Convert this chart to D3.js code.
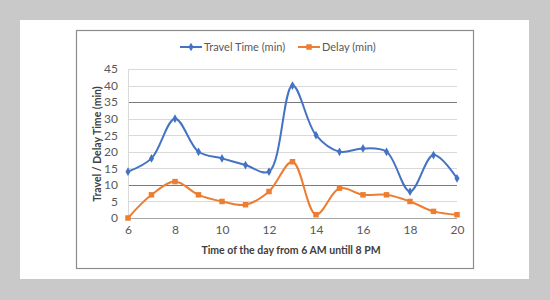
<!DOCTYPE html>
<html>
<head>
<meta charset="utf-8">
<script src="https://cdn.jsdelivr.net/npm/d3@7"></script>
<style>
  body { margin: 0; background: #c9c9c9; }
  svg { display: block; font-family: Lato, 'Open Sans', sans-serif; }
</style>
</head>
<body>
<svg width="550" height="300"></svg>
<script>
// chart data
var hours = [6, 7, 8, 9, 10, 11, 12, 13, 14, 15, 16, 17, 18, 19, 20]
var travelTime = [14, 18, 30, 20, 18, 16, 14, 40, 25, 20, 21, 20, 8, 19, 12]
var delay = [0, 7, 11, 7, 5, 4, 8, 17, 1, 9, 7, 7, 5, 2, 1]
var xTicks = [6, 8, 10, 12, 14, 16, 18, 20]
var yTicks = [0, 5, 10, 15, 20, 25, 30, 35, 40, 45]
var seriesNames = ['Travel Time (min)', 'Delay (min)']

var blue = '#4472c4', orange = '#ed7d31'

var svg = d3.select('svg')

// white card + chart frame
svg.append('rect').attr('x', 20).attr('y', 20).attr('width', 509).attr('height', 259).attr('fill', '#fff')
svg.append('rect').attr('x', 76.5).attr('y', 30.5).attr('width', 397).attr('height', 238)
    .attr('fill', '#fff').attr('stroke', '#8c8c8c').attr('stroke-width', 1.2)

var x = d3.scaleLinear().domain([6, 20]).range([128, 457])
var y = d3.scaleLinear().domain([0, 45]).range([218, 69])

// grid lines
svg.append('g')
  .selectAll('line')
  .data(yTicks)
  .enter().append('line')
    .attr('x1', x(6)).attr('x2', x(20))
    .attr('y1', function(d) { return Math.round(y(d)) + 0.5 })
    .attr('y2', function(d) { return Math.round(y(d)) + 0.5 })
    .attr('stroke', function(d) { return (d == 35 || d == 10) ? '#7a7a7a' : (d == 0 ? '#a6a6a6' : '#d9d9d9') })
    .attr('stroke-width', 1)

// left axis line
svg.append('line').attr('x1', x(6) + 0.5).attr('x2', x(6) + 0.5).attr('y1', y(45)).attr('y2', y(0))
    .attr('stroke', '#d9d9d9')

// y axis
var yAxis = svg.append('g')
    .attr('transform', 'translate(' + x(6) + ',0)')
    .call(d3.axisLeft(y).tickValues(yTicks).tickSize(0).tickPadding(10))
yAxis.select('.domain').remove()
yAxis.selectAll('text').attr('font-size', 12).attr('fill', '#595959').attr('font-family', 'Lato, sans-serif')

// x axis
var xAxis = svg.append('g')
    .attr('transform', 'translate(0,' + y(0) + ')')
    .call(d3.axisBottom(x).tickValues(xTicks).tickSize(0).tickPadding(7))
xAxis.select('.domain').remove()
xAxis.selectAll('text').attr('font-size', 12).attr('fill', '#595959').attr('font-family', 'Lato, sans-serif')

// axis titles
svg.append('text')
    .attr('x', 291).attr('y', 254)
    .attr('text-anchor', 'middle')
    .attr('font-size', 10.5).attr('font-weight', 'bold').attr('fill', '#404040')
    .text('Time of the day from 6 AM untill 8 PM')

svg.append('text')
    .attr('transform', 'translate(101,144) rotate(-90)')
    .attr('text-anchor', 'middle')
    .attr('font-size', 10.5).attr('font-weight', 'bold').attr('fill', '#404040')
    .text('Travel / Delay Time (min)')

// lines
var line = d3.line()
    .x(function(d) { return x(d[0]) })
    .y(function(d) { return y(d[1]) })
    .curve(d3.curveCatmullRom.alpha(0.5))

var series = [
  { name: seriesNames[0], values: travelTime, color: blue, shape: d3.symbolDiamond, size: 22 },
  { name: seriesNames[1], values: delay, color: orange, shape: d3.symbolSquare, size: 30 }
]

series.forEach(function(s) {
  var pts = hours.map(function(h, i) { return [h, s.values[i]] })
  svg.append('path')
      .datum(pts)
      .attr('d', line)
      .attr('fill', 'none')
      .attr('stroke', s.color)
      .attr('stroke-width', 2)
  svg.append('g')
    .selectAll('path')
    .data(pts)
    .enter().append('path')
      .attr('transform', function(d) { return 'translate(' + x(d[0]) + ',' + y(d[1]) + ')' })
      .attr('d', d3.symbol().type(s.shape).size(s.size))
      .attr('fill', s.color)
})

// legend
var legendX = [180, 298]
series.forEach(function(s, i) {
  var g = svg.append('g').attr('transform', 'translate(' + legendX[i] + ',47)')
  g.append('line').attr('x1', 0).attr('x2', 22).attr('stroke', s.color).attr('stroke-width', 2)
  g.append('path').attr('transform', 'translate(11,0)').attr('d', d3.symbol().type(s.shape).size(s.size)).attr('fill', s.color)
  g.append('text').attr('x', 24).attr('dy', '0.35em')
      .attr('font-size', 11).attr('fill', '#595959')
      .text(s.name)
})
</script>
</body>
</html>
